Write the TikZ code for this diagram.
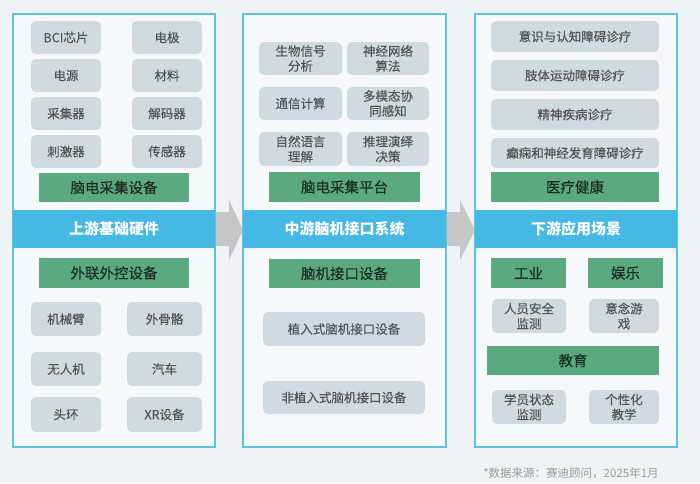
\documentclass[tikz,border=0pt]{standalone}
\usepackage{fontspec}
\setmainfont{Noto Sans CJK SC}
\newfontfamily\medfont{Noto Sans CJK SC}[FakeBold=0.35]
\definecolor{bgc}{HTML}{EEF3F7}
\definecolor{panelfill}{HTML}{F6F9FB}
\definecolor{cyanline}{HTML}{5CC4DD}
\definecolor{bandc}{HTML}{46B8E4}
\definecolor{greenc}{HTML}{5AA97F}
\definecolor{sboxc}{HTML}{CFDAE1}
\definecolor{stext}{HTML}{555555}
\definecolor{gtext}{HTML}{1C2E23}
\definecolor{arrowc}{HTML}{C6C6C6}
\definecolor{foot}{HTML}{9A9A9A}
\tikzset{
  panel/.style={draw=cyanline, line width=1.3pt, fill=panelfill},
  band/.style={fill=bandc, text=white, font=\fontsize{15}{18}\selectfont\bfseries, inner sep=0pt, minimum width=202, minimum height=38},
  gbox/.style={fill=greenc, text=gtext, font=\fontsize{14.5}{17}\selectfont\medfont, inner sep=0pt, minimum height=30},
  sbox/.style={fill=sboxc, text=stext, rounded corners=5pt, font=\fontsize{12.5}{15}\selectfont\medfont, align=center, inner sep=0pt, minimum height=33},
  barrow/.style={fill=arrowc, draw=none}
}
\begin{document}
\begin{tikzpicture}[x=1pt,y=-1pt]
\fill[bgc] (0,0) rectangle (700,483);
\useasboundingbox (0,0) rectangle (700,483);
% arrows
\fill[barrow] (214,212) -- (229,212) -- (229,200) -- (243,230) -- (229,260) -- (229,246) -- (214,246) -- cycle;
\fill[barrow] (445,212) -- (460,212) -- (460,200) -- (475,230) -- (460,260) -- (460,246) -- (445,246) -- cycle;
% panels
\draw[panel] (13,14) rectangle (215,447);
\draw[panel] (243,14) rectangle (446,447);
\draw[panel] (475,14) rectangle (677,447);
% left column
\node[sbox, minimum width=70] (l1) at (66,37.5) {BCI芯片};
\node[sbox, minimum width=70] (l2) at (167,37.5) {电极};
\node[sbox, minimum width=70] (l3) at (66,75.5) {电源};
\node[sbox, minimum width=70] (l4) at (167,75.5) {材料};
\node[sbox, minimum width=70] (l5) at (66,113.5) {采集器};
\node[sbox, minimum width=70] (l6) at (167,113.5) {解码器};
\node[sbox, minimum width=70] (l7) at (66,151.5) {刺激器};
\node[sbox, minimum width=70] (l8) at (167,151.5) {传感器};
\node[gbox, minimum width=150, minimum height=29] (lg1) at (114,187.5) {脑电采集设备};
\node[band] (lband) at (114,229) {上游基础硬件};
\node[gbox, minimum width=150] (lg2) at (114,273) {外联外控设备};
\node[sbox, minimum width=70, minimum height=34] (l9) at (66,319) {机械臂};
\node[sbox, minimum width=75, minimum height=34] (l10) at (164.5,319) {外骨骼};
\node[sbox, minimum width=70, minimum height=34] (l11) at (66,369) {无人机};
\node[sbox, minimum width=75, minimum height=34] (l12) at (164.5,369) {汽车};
\node[sbox, minimum width=70, minimum height=35] (l13) at (66,414.5) {头环};
\node[sbox, minimum width=75, minimum height=35] (l14) at (164.5,414.5) {XR设备};
% middle column
\node[sbox, minimum width=83] (m1) at (300.5,58.5) {生物信号\\分析};
\node[sbox, minimum width=82] (m2) at (388,58.5) {神经网络\\算法};
\node[sbox, minimum width=83] (m3) at (300.5,103.5) {通信计算};
\node[sbox, minimum width=82] (m4) at (388,103.5) {多模态协\\同感知};
\node[sbox, minimum width=83, minimum height=34] (m5) at (300.5,149) {自然语言\\理解};
\node[sbox, minimum width=82, minimum height=34] (m6) at (388,149) {推理演绎\\决策};
\node[gbox, minimum width=151] (mg1) at (344.5,187) {脑电采集平台};
\node[band, minimum width=203] (mband) at (344.5,229) {中游脑机接口系统};
\node[gbox, minimum width=151, minimum height=29] (mg2) at (344.5,273.5) {脑机接口设备};
\node[sbox, minimum width=162, minimum height=34] (m7) at (344,329) {植入式脑机接口设备};
\node[sbox, minimum width=162] (m8) at (344,397.5) {非植入式脑机接口设备};
% right column
\node[sbox, minimum width=168, minimum height=31] (r1) at (575,36.5) {意识与认知障碍诊疗};
\node[sbox, minimum width=168, minimum height=31] (r2) at (575,75.5) {肢体运动障碍诊疗};
\node[sbox, minimum width=168, minimum height=31] (r3) at (575,114.5) {精神疾病诊疗};
\node[sbox, minimum width=168, minimum height=30] (r4) at (575,153) {癫痫和神经发育障碍诊疗};
\node[gbox, minimum width=168] (rg1) at (575,187) {医疗健康};
\node[band] (rband) at (576,229) {下游应用场景};
\node[gbox, minimum width=75] (rg2) at (528.5,273) {工业};
\node[gbox, minimum width=75] (rg3) at (625.5,273) {娱乐};
\node[sbox, minimum width=74, minimum height=34] (r5) at (529,316) {人员安全\\监测};
\node[sbox, minimum width=70, minimum height=34] (r6) at (624,316) {意念游\\戏};
\node[gbox, minimum width=172, minimum height=29] (rg4) at (573,360.5) {教育};
\node[sbox, minimum width=74, minimum height=34] (r7) at (529,407) {学员状态\\监测};
\node[sbox, minimum width=70, minimum height=34] (r8) at (624,407) {个性化\\教学};
% footer
\node[text=foot, font=\fontsize{11.5}{13}\selectfont, inner sep=0pt] (src) at (571,473) {*数据来源：赛迪顾问，2025年1月};
\end{tikzpicture}
\end{document}
